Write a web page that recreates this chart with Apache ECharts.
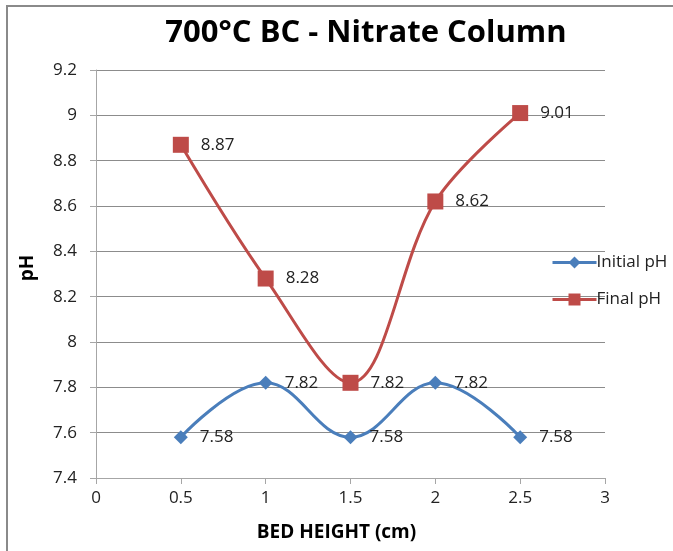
<!DOCTYPE html>
<html>
<head>
<meta charset="utf-8">
<script src="https://cdn.jsdelivr.net/npm/echarts@6/dist/echarts.min.js"></script>
<style>
  html, body { margin: 0; padding: 0; background: #fff; overflow: hidden; }
  #frame { position: absolute; left: 6px; top: 5px; right: 0; bottom: 0; border-top: 2px solid #8a8a8a; border-left: 2px solid #8a8a8a; }
  #chart { position: absolute; left: 0; top: 0; width: 673px; height: 551px; }
</style>
</head>
<body>
<div id="frame"></div>
<div id="chart"></div>
<script>
// Bed heights (cm) and measured pH values
const bedHeights = [0.5, 1, 1.5, 2, 2.5];
const initialPH = [7.58, 7.82, 7.58, 7.82, 7.58];
const finalPH = [8.87, 8.28, 7.82, 8.62, 9.01];
const seriesNames = ['Initial pH', 'Final pH'];

const font = 'Open Sans, Liberation Sans, sans-serif';
const pairs = (ys) => bedHeights.map((x, i) => [x, ys[i]]);

const chart = echarts.init(document.getElementById('chart'), null, { renderer: 'canvas' });
chart.setOption({
  animation: false,
  title: {
    text: '700°C BC - Nitrate Column',
    left: 361, top: 13, textAlign: 'center',
    textStyle: { fontFamily: font, fontWeight: 'bold', fontSize: 31, color: '#000' }
  },
  graphic: [
    {
      type: 'text', left: 'center', top: 523, x: 12,
      style: { text: 'BED HEIGHT (cm)', fontFamily: font, fontWeight: 'bold', fontSize: 19, fill: '#000' }
    },
    {
      type: 'text', x: 18, y: 268, rotation: Math.PI / 2,
      style: { text: 'pH', fontFamily: font, fontWeight: 'bold', fontSize: 19, fill: '#000',
        align: 'center', verticalAlign: 'top' }
    }
  ],
  grid: { left: 96, right: 68, top: 70, bottom: 73 },
  legend: {
    orient: 'vertical', left: 546, top: 249, itemGap: 20,
    itemWidth: 44, itemHeight: 15,
    lineStyle: { width: 3 },
    textStyle: { fontFamily: font, fontSize: 17, color: '#222', padding: [0, 0, 0, -5] },
    data: seriesNames
  },
  xAxis: {
    type: 'value', min: 0, max: 3, interval: 0.5,
    axisLine: { show: true, lineStyle: { color: '#a6a6a6', width: 1 } },
    axisTick: { show: true, length: 6, lineStyle: { color: '#a6a6a6' } },
    axisLabel: { fontFamily: font, fontSize: 17, color: '#222', margin: 12 },
    splitLine: { show: false }
  },
  yAxis: {
    type: 'value', min: 7.4, max: 9.2, interval: 0.2,
    axisLine: { show: true, lineStyle: { color: '#a6a6a6', width: 1 } },
    axisTick: { show: true, length: 6, lineStyle: { color: '#a6a6a6' } },
    axisLabel: { fontFamily: font, fontSize: 17, color: '#222', margin: 19,
      formatter: (v) => String(parseFloat(v.toFixed(1))) },
    splitLine: { show: true, lineStyle: { color: '#8c8c8c', width: 1 } }
  },
  series: [
    {
      name: seriesNames[0], type: 'line', smooth: 0.4,
      data: pairs(initialPH),
      symbol: 'diamond', symbolSize: 14,
      lineStyle: { color: '#4a7ebb', width: 3 },
      itemStyle: { color: '#4a7ebb' },
      label: { show: true, position: 'right', distance: 12,
        fontFamily: font, fontSize: 17, color: '#222',
        formatter: (p) => p.value[1].toFixed(2) },
      z: 3
    },
    {
      name: seriesNames[1], type: 'line', smooth: 0.35,
      data: pairs(finalPH),
      symbol: 'rect', symbolSize: 16,
      lineStyle: { color: '#be4b48', width: 3 },
      itemStyle: { color: '#be4b48' },
      label: { show: true, position: 'right', distance: 12,
        fontFamily: font, fontSize: 17, color: '#222',
        formatter: (p) => p.value[1].toFixed(2) },
      z: 4
    }
  ]
});
</script>
</body>
</html>
